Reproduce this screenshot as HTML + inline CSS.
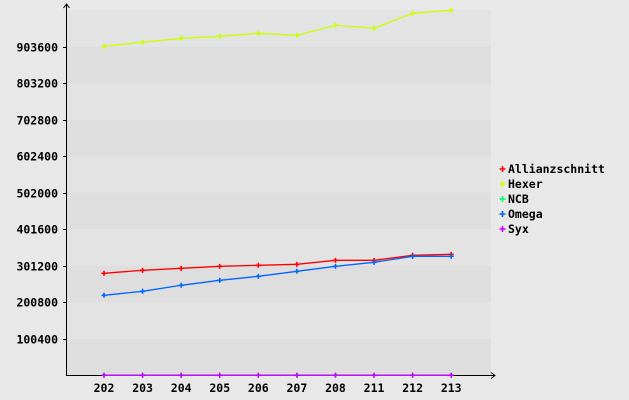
<!DOCTYPE html>
<html><head><meta charset="utf-8"><style>
html,body{margin:0;padding:0;background:#e8e8e8;}
svg{display:block;}
text{font-family:"DejaVu Sans Mono","Liberation Mono",monospace;font-weight:bold;font-size:11.5px;fill:#000;}
</style></head><body>
<svg id="chart" width="629" height="400" xmlns="http://www.w3.org/2000/svg">
<g id="bands"></g><g id="axes"></g><g id="series"></g><g id="legend"></g>
</svg>
<script>
const categories = ["202","203","204","205","206","207","208","211","212","213"];
const seriesNames = ["Allianzschnitt","Hexer","NCB","Omega","Syx"];
const seriesColors = ["#ff0000","#ccff00","#00ff66","#0066ff","#cc00ff"];
const allianzschnitt = [280300,288500,294000,299500,302300,305000,316000,316000,329800,332500];
const hexer = [904700,915700,926700,932200,940400,934900,962500,954200,995500,1003700];
const ncb = [0,0,0,0,0,0,0,0,0,0];
const omega = [219800,230800,247300,261000,272000,285800,299500,310500,327000,327000];
const syx = [0,0,0,0,0,0,0,0,0,0];
const yTicks = [100400,200800,301200,401600,502000,602400,702800,803200,903600];

const NS="http://www.w3.org/2000/svg";
const L=66,R=491,T=10,B=375.2;
const perUnit=36.5/100400;
function y(v){return B-v*perUnit;}
function x(i){return 104+i*38.58;}
function mk(tag,attrs,parent){const e=document.createElementNS(NS,tag);for(const k in attrs)e.setAttribute(k,attrs[k]);parent.appendChild(e);return e;}
const bands=document.getElementById('bands'),axes=document.getElementById('axes'),ser=document.getElementById('series'),leg=document.getElementById('legend');
// bands
const bounds=[0].concat(yTicks).concat([1e9]);
for(let i=0;i<bounds.length-1;i++){
  const y1=Math.max(T,y(bounds[i+1])),y0=y(bounds[i]);
  const r=mk('rect',{x:L,y:y1,width:R-L,height:y0-y1,fill:(i%2===0)?'#dedede':'#e3e3e3'},bands);
  
  
}
// axes
const ya=mk('path',{d:`M${L+0.5} ${B} V4 M${L-2.5} 8 L${L+0.5} 4 L${L+3.5} 8`,stroke:'#000',fill:'none'},axes);


const xa=mk('path',{d:`M${L} ${B+0.3} H495 M491 ${B-2.7} L495 ${B+0.3} L491 ${B+3.3}`,stroke:'#000',fill:'none'},axes);


yTicks.forEach(v=>{
  const yy=Math.round(y(v))+0.5;
  mk('line',{x1:L-3,x2:L,y1:yy,y2:yy,stroke:'#000'},axes);
  const t=mk('text',{x:58,y:yy+4,'text-anchor':'end'},axes);
  t.textContent=v;
  
  
});
categories.forEach((c,i)=>{
  const t=mk('text',{x:x(i),y:392,'text-anchor':'middle'},axes);
  t.textContent=c;
  
  
});
// series
const data=[allianzschnitt,hexer,ncb,omega,syx];
data.forEach((arr,s)=>{
  const g=mk('g',{},ser);
  
  
  mk('polyline',{points:arr.map((v,i)=>x(i)+','+y(v)).join(' '),fill:'none',stroke:seriesColors[s],'stroke-width':1.3},g);
  arr.forEach((v,i)=>{
    const p=mk('path',{d:`M${x(i)-2.5} ${y(v)} H${x(i)+2.5} M${x(i)} ${y(v)-2.5} V${y(v)+2.5}`,stroke:seriesColors[s],'stroke-width':1.6},g);
    
    
  });
});
// legend
seriesNames.forEach((n,i)=>{
  const g=mk('g',{},leg);
  
  
  const ly=169+i*15;
  mk('path',{d:`M499.5 ${ly} H505.5 M502.5 ${ly-3} V${ly+3}`,stroke:seriesColors[i],'stroke-width':1.6},g);
  const t=mk('text',{x:508,y:ly+4},g);
  t.textContent=n;
});
</script>
</body></html>
